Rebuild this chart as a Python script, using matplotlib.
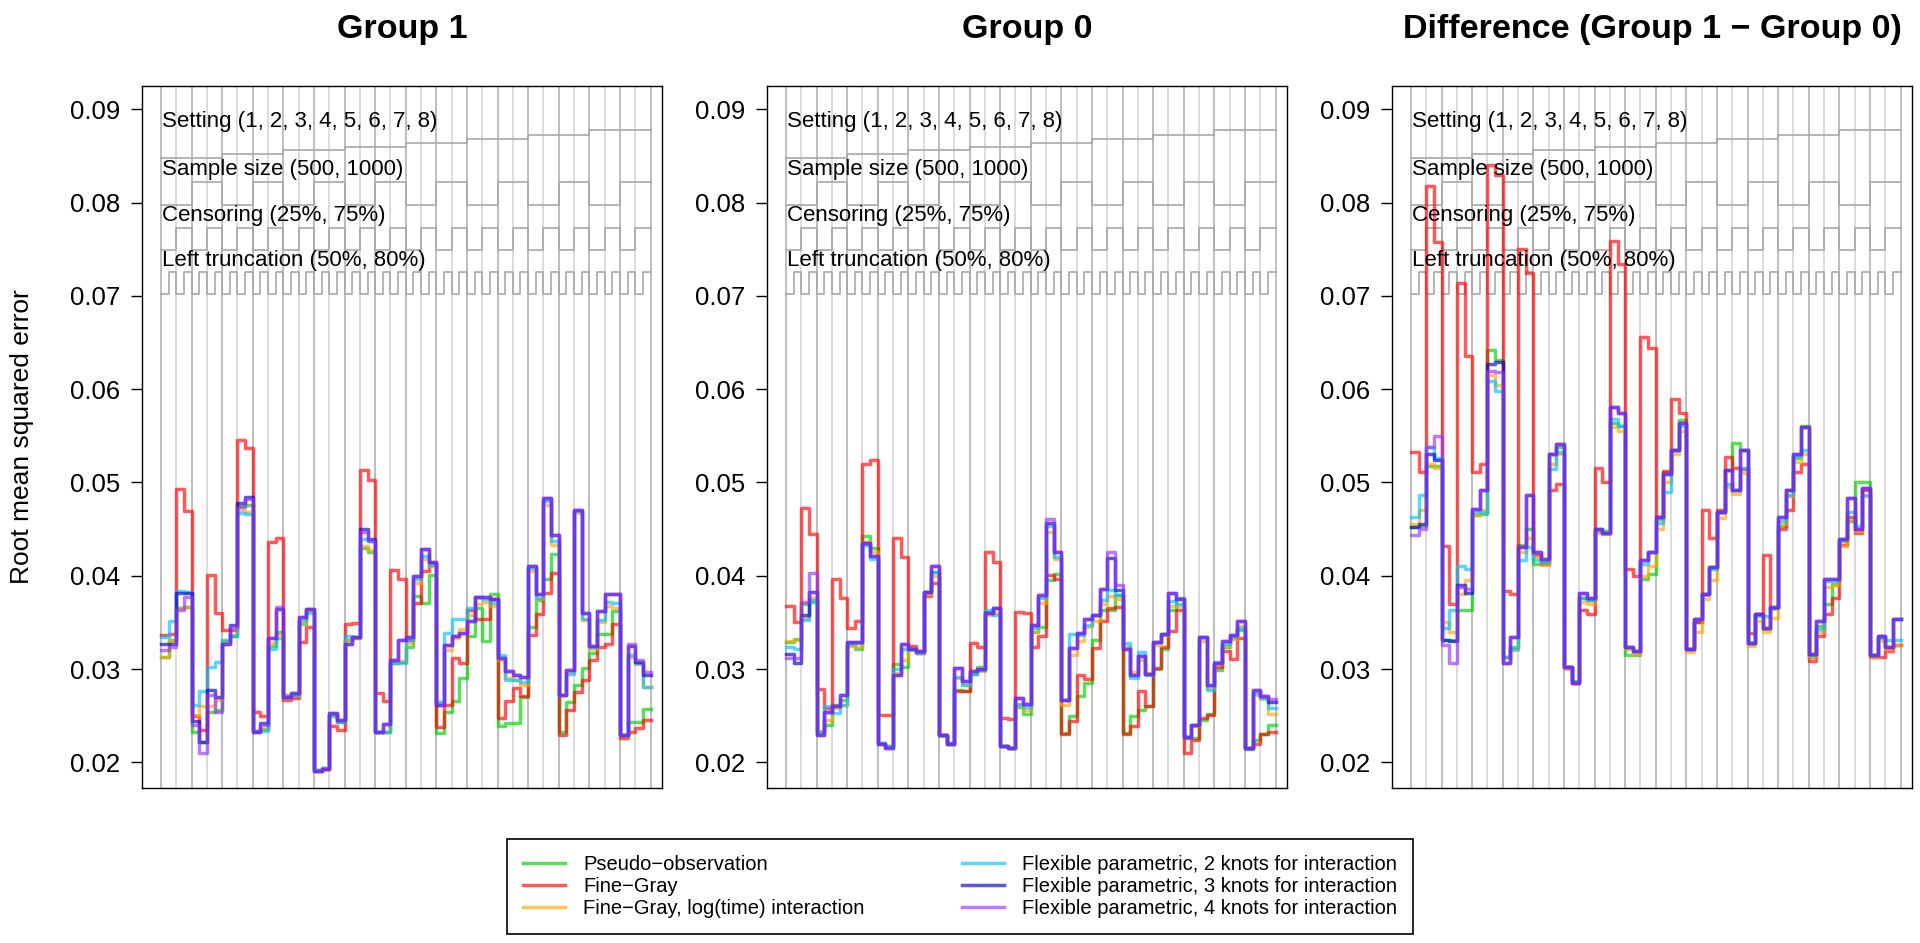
import numpy as np
import matplotlib
matplotlib.use("Agg")
import matplotlib.pyplot as plt
from matplotlib.lines import Line2D

plt.rcParams['font.family'] = ['Liberation Sans', 'DejaVu Sans']

# methods shown in the legend, in legend order
methods = ["Pseudo\u2212observation", "Fine\u2212Gray", "Fine\u2212Gray, log(time) interaction",
           "Flexible parametric, 2 knots for interaction",
           "Flexible parametric, 3 knots for interaction",
           "Flexible parametric, 4 knots for interaction"]
colors = ["#00CD00", "#FF0000", "#FFA500", "#00BFFF", "#0000CD", "#9B30FF"]

titles = ["Group 1", "Group 0", "Difference (Group 1 \u2212 Group 0)"]

# RMSE per scenario (64 scenarios), group 1
g1_pseudo = [0.0313, 0.0331, 0.0365, 0.0366, 0.0232, 0.0222, 0.0254, 0.0256, 0.0330, 0.0335,
             0.0475, 0.0476, 0.0234, 0.0236, 0.0325, 0.0340, 0.0272, 0.0272, 0.0348, 0.0364,
             0.0192, 0.0194, 0.0250, 0.0243, 0.0331, 0.0333, 0.0430, 0.0426, 0.0232, 0.0232,
             0.0306, 0.0308, 0.0324, 0.0378, 0.0371, 0.0401, 0.0231, 0.0254, 0.0266, 0.0290,
             0.0335, 0.0365, 0.0330, 0.0380, 0.0239, 0.0242, 0.0242, 0.0270, 0.0345, 0.0374,
             0.0396, 0.0423, 0.0232, 0.0265, 0.0283, 0.0301, 0.0317, 0.0338, 0.0338, 0.0362,
             0.0229, 0.0243, 0.0243, 0.0257]
g1_fg = [0.0336, 0.0338, 0.0493, 0.0469, 0.0250, 0.0235, 0.0401, 0.0360, 0.0342, 0.0342,
         0.0546, 0.0537, 0.0254, 0.0250, 0.0436, 0.0441, 0.0267, 0.0269, 0.0329, 0.0345,
         0.0191, 0.0193, 0.0239, 0.0235, 0.0348, 0.0349, 0.0513, 0.0503, 0.0274, 0.0266,
         0.0406, 0.0397, 0.0331, 0.0371, 0.0405, 0.0414, 0.0238, 0.0261, 0.0312, 0.0306,
         0.0363, 0.0354, 0.0354, 0.0375, 0.0247, 0.0266, 0.0280, 0.0271, 0.0337, 0.0359,
         0.0382, 0.0403, 0.0229, 0.0256, 0.0275, 0.0288, 0.0310, 0.0324, 0.0327, 0.0348,
         0.0226, 0.0233, 0.0237, 0.0245]
g1_fglog = [0.0313, 0.0330, 0.0365, 0.0367, 0.0251, 0.0260, 0.0260, 0.0267, 0.0330, 0.0336,
            0.0470, 0.0468, 0.0234, 0.0236, 0.0328, 0.0338, 0.0271, 0.0272, 0.0350, 0.0362,
            0.0192, 0.0194, 0.0252, 0.0244, 0.0331, 0.0333, 0.0432, 0.0428, 0.0232, 0.0233,
            0.0307, 0.0309, 0.0328, 0.0392, 0.0418, 0.0410, 0.0265, 0.0320, 0.0333, 0.0343,
            0.0358, 0.0370, 0.0372, 0.0368, 0.0310, 0.0290, 0.0288, 0.0283, 0.0405, 0.0375,
            0.0476, 0.0433, 0.0272, 0.0297, 0.0467, 0.0353, 0.0322, 0.0350, 0.0368, 0.0365,
            0.0229, 0.0313, 0.0305, 0.0281]
g1_fp2 = [0.0334, 0.0352, 0.0384, 0.0383, 0.0261, 0.0276, 0.0302, 0.0308, 0.0331, 0.0335,
          0.0467, 0.0466, 0.0234, 0.0234, 0.0322, 0.0333, 0.0270, 0.0272, 0.0353, 0.0360,
          0.0192, 0.0194, 0.0252, 0.0243, 0.0335, 0.0334, 0.0439, 0.0437, 0.0232, 0.0232,
          0.0306, 0.0307, 0.0331, 0.0396, 0.0421, 0.0412, 0.0265, 0.0339, 0.0354, 0.0354,
          0.0365, 0.0377, 0.0375, 0.0371, 0.0315, 0.0288, 0.0288, 0.0286, 0.0408, 0.0376,
          0.0480, 0.0437, 0.0272, 0.0295, 0.0469, 0.0354, 0.0324, 0.0353, 0.0372, 0.0371,
          0.0229, 0.0315, 0.0306, 0.0281]
g1_fp3 = [0.0327, 0.0327, 0.0381, 0.0381, 0.0244, 0.0222, 0.0278, 0.0270, 0.0327, 0.0347,
          0.0478, 0.0484, 0.0233, 0.0242, 0.0333, 0.0364, 0.0270, 0.0274, 0.0356, 0.0364,
          0.0191, 0.0193, 0.0253, 0.0245, 0.0327, 0.0334, 0.0450, 0.0439, 0.0233, 0.0241,
          0.0310, 0.0331, 0.0334, 0.0400, 0.0429, 0.0415, 0.0262, 0.0326, 0.0335, 0.0339,
          0.0352, 0.0377, 0.0377, 0.0375, 0.0312, 0.0298, 0.0294, 0.0291, 0.0410, 0.0380,
          0.0483, 0.0444, 0.0272, 0.0299, 0.0471, 0.0360, 0.0325, 0.0362, 0.0380, 0.0380,
          0.0229, 0.0325, 0.0308, 0.0294]
g1_fp4 = [0.0320, 0.0324, 0.0363, 0.0377, 0.0240, 0.0210, 0.0272, 0.0254, 0.0327, 0.0345,
          0.0474, 0.0482, 0.0233, 0.0240, 0.0333, 0.0366, 0.0270, 0.0274, 0.0356, 0.0364,
          0.0191, 0.0193, 0.0253, 0.0245, 0.0327, 0.0334, 0.0447, 0.0437, 0.0233, 0.0241,
          0.0310, 0.0331, 0.0334, 0.0400, 0.0429, 0.0415, 0.0262, 0.0326, 0.0335, 0.0339,
          0.0352, 0.0377, 0.0377, 0.0375, 0.0312, 0.0298, 0.0294, 0.0291, 0.0410, 0.0380,
          0.0483, 0.0444, 0.0272, 0.0299, 0.0471, 0.0360, 0.0325, 0.0362, 0.0380, 0.0380,
          0.0229, 0.0327, 0.0310, 0.0297]

# group 0
g0_pseudo = [0.0329, 0.0332, 0.0370, 0.0372, 0.0233, 0.0240, 0.0261, 0.0267, 0.0326, 0.0322,
             0.0443, 0.0430, 0.0221, 0.0217, 0.0305, 0.0302, 0.0322, 0.0318, 0.0383, 0.0404,
             0.0229, 0.0221, 0.0278, 0.0277, 0.0295, 0.0302, 0.0361, 0.0365, 0.0218, 0.0215,
             0.0259, 0.0252, 0.0340, 0.0345, 0.0395, 0.0402, 0.0231, 0.0250, 0.0271, 0.0285,
             0.0331, 0.0363, 0.0363, 0.0379, 0.0231, 0.0250, 0.0256, 0.0260, 0.0300, 0.0322,
             0.0363, 0.0376, 0.0226, 0.0226, 0.0245, 0.0252, 0.0299, 0.0324, 0.0333, 0.0342,
             0.0214, 0.0224, 0.0230, 0.0240]
g0_fg = [0.0368, 0.0350, 0.0473, 0.0445, 0.0279, 0.0258, 0.0397, 0.0376, 0.0344, 0.0351,
         0.0520, 0.0524, 0.0251, 0.0251, 0.0441, 0.0420, 0.0325, 0.0317, 0.0378, 0.0392,
         0.0229, 0.0220, 0.0276, 0.0276, 0.0328, 0.0324, 0.0425, 0.0415, 0.0247, 0.0246,
         0.0361, 0.0360, 0.0324, 0.0335, 0.0401, 0.0396, 0.0230, 0.0244, 0.0294, 0.0289,
         0.0323, 0.0351, 0.0365, 0.0366, 0.0230, 0.0239, 0.0276, 0.0260, 0.0301, 0.0324,
         0.0341, 0.0363, 0.0210, 0.0224, 0.0247, 0.0251, 0.0302, 0.0319, 0.0311, 0.0333,
         0.0215, 0.0220, 0.0230, 0.0233]
g0_fglog = [0.0330, 0.0331, 0.0355, 0.0376, 0.0234, 0.0245, 0.0258, 0.0262, 0.0325, 0.0324,
            0.0436, 0.0425, 0.0221, 0.0217, 0.0296, 0.0310, 0.0322, 0.0318, 0.0380, 0.0400,
            0.0229, 0.0221, 0.0290, 0.0283, 0.0297, 0.0298, 0.0358, 0.0360, 0.0218, 0.0215,
            0.0262, 0.0256, 0.0340, 0.0371, 0.0447, 0.0418, 0.0262, 0.0315, 0.0330, 0.0345,
            0.0352, 0.0370, 0.0378, 0.0375, 0.0325, 0.0297, 0.0310, 0.0296, 0.0326, 0.0336,
            0.0368, 0.0368, 0.0227, 0.0239, 0.0330, 0.0280, 0.0305, 0.0325, 0.0332, 0.0346,
            0.0215, 0.0272, 0.0268, 0.0252]
g0_fp2 = [0.0324, 0.0322, 0.0353, 0.0374, 0.0233, 0.0260, 0.0253, 0.0261, 0.0328, 0.0328,
          0.0433, 0.0418, 0.0221, 0.0217, 0.0300, 0.0322, 0.0322, 0.0317, 0.0383, 0.0404,
          0.0229, 0.0221, 0.0292, 0.0283, 0.0295, 0.0299, 0.0363, 0.0358, 0.0218, 0.0215,
          0.0263, 0.0259, 0.0344, 0.0376, 0.0453, 0.0420, 0.0267, 0.0338, 0.0336, 0.0347,
          0.0358, 0.0374, 0.0385, 0.0379, 0.0328, 0.0290, 0.0318, 0.0294, 0.0329, 0.0338,
          0.0373, 0.0370, 0.0227, 0.0240, 0.0334, 0.0278, 0.0308, 0.0327, 0.0335, 0.0344,
          0.0215, 0.0274, 0.0269, 0.0258]
g0_fp3 = [0.0316, 0.0307, 0.0358, 0.0383, 0.0229, 0.0254, 0.0260, 0.0272, 0.0329, 0.0329,
          0.0435, 0.0421, 0.0220, 0.0215, 0.0294, 0.0327, 0.0322, 0.0319, 0.0383, 0.0410,
          0.0229, 0.0220, 0.0301, 0.0287, 0.0298, 0.0300, 0.0360, 0.0365, 0.0217, 0.0215,
          0.0269, 0.0263, 0.0347, 0.0379, 0.0457, 0.0425, 0.0267, 0.0323, 0.0339, 0.0354,
          0.0358, 0.0386, 0.0419, 0.0385, 0.0322, 0.0294, 0.0314, 0.0295, 0.0329, 0.0338,
          0.0382, 0.0375, 0.0227, 0.0240, 0.0334, 0.0283, 0.0307, 0.0330, 0.0336, 0.0351,
          0.0215, 0.0278, 0.0271, 0.0265]
g0_fp4 = [0.0312, 0.0312, 0.0372, 0.0403, 0.0229, 0.0254, 0.0260, 0.0272, 0.0329, 0.0329,
          0.0435, 0.0421, 0.0220, 0.0215, 0.0294, 0.0327, 0.0322, 0.0319, 0.0383, 0.0410,
          0.0229, 0.0220, 0.0301, 0.0287, 0.0298, 0.0300, 0.0360, 0.0365, 0.0217, 0.0215,
          0.0269, 0.0263, 0.0347, 0.0379, 0.0461, 0.0425, 0.0267, 0.0323, 0.0339, 0.0354,
          0.0358, 0.0386, 0.0425, 0.0390, 0.0322, 0.0294, 0.0314, 0.0295, 0.0329, 0.0338,
          0.0382, 0.0375, 0.0227, 0.0240, 0.0334, 0.0283, 0.0307, 0.0330, 0.0336, 0.0351,
          0.0215, 0.0278, 0.0271, 0.0268]

# difference (group 1 - group 0)
diff_pseudo = [0.0452, 0.0453, 0.0518, 0.0518, 0.0331, 0.0331, 0.0363, 0.0363, 0.0465, 0.0466,
               0.0642, 0.0631, 0.0313, 0.0324, 0.0433, 0.0450, 0.0413, 0.0415, 0.0531, 0.0538,
               0.0302, 0.0287, 0.0376, 0.0374, 0.0450, 0.0448, 0.0564, 0.0561, 0.0315, 0.0315,
               0.0396, 0.0402, 0.0461, 0.0511, 0.0535, 0.0567, 0.0322, 0.0350, 0.0380, 0.0409,
               0.0468, 0.0513, 0.0542, 0.0535, 0.0328, 0.0359, 0.0343, 0.0365, 0.0453, 0.0492,
               0.0526, 0.0561, 0.0313, 0.0346, 0.0370, 0.0391, 0.0437, 0.0459, 0.0500, 0.0500,
               0.0315, 0.0333, 0.0324, 0.0354]
diff_fg = [0.0533, 0.0511, 0.0818, 0.0758, 0.0432, 0.0370, 0.0714, 0.0636, 0.0511, 0.0520,
           0.0840, 0.0830, 0.0384, 0.0380, 0.0750, 0.0725, 0.0422, 0.0413, 0.0492, 0.0498,
           0.0302, 0.0285, 0.0363, 0.0359, 0.0516, 0.0501, 0.0759, 0.0734, 0.0407, 0.0400,
           0.0656, 0.0644, 0.0463, 0.0512, 0.0590, 0.0574, 0.0322, 0.0350, 0.0470, 0.0441,
           0.0470, 0.0527, 0.0516, 0.0514, 0.0339, 0.0359, 0.0422, 0.0365, 0.0450, 0.0470,
           0.0511, 0.0520, 0.0309, 0.0335, 0.0359, 0.0376, 0.0433, 0.0463, 0.0446, 0.0492,
           0.0313, 0.0313, 0.0319, 0.0326]
diff_fglog = [0.0455, 0.0470, 0.0520, 0.0515, 0.0350, 0.0340, 0.0380, 0.0395, 0.0465, 0.0470,
              0.0615, 0.0605, 0.0313, 0.0320, 0.0425, 0.0440, 0.0420, 0.0412, 0.0520, 0.0530,
              0.0300, 0.0286, 0.0372, 0.0370, 0.0446, 0.0445, 0.0560, 0.0555, 0.0322, 0.0316,
              0.0400, 0.0410, 0.0450, 0.0500, 0.0530, 0.0555, 0.0318, 0.0340, 0.0375, 0.0395,
              0.0462, 0.0495, 0.0488, 0.0510, 0.0325, 0.0352, 0.0340, 0.0355, 0.0455, 0.0485,
              0.0522, 0.0530, 0.0313, 0.0340, 0.0388, 0.0390, 0.0432, 0.0460, 0.0448, 0.0485,
              0.0313, 0.0330, 0.0322, 0.0326]
diff_fp2 = [0.0463, 0.0487, 0.0538, 0.0526, 0.0344, 0.0363, 0.0411, 0.0407, 0.0468, 0.0468,
            0.0609, 0.0598, 0.0313, 0.0322, 0.0417, 0.0431, 0.0417, 0.0415, 0.0514, 0.0533,
            0.0302, 0.0287, 0.0376, 0.0374, 0.0448, 0.0446, 0.0568, 0.0561, 0.0324, 0.0319,
            0.0413, 0.0426, 0.0457, 0.0490, 0.0535, 0.0561, 0.0322, 0.0354, 0.0380, 0.0407,
            0.0468, 0.0498, 0.0492, 0.0516, 0.0328, 0.0357, 0.0357, 0.0365, 0.0459, 0.0487,
            0.0528, 0.0535, 0.0315, 0.0343, 0.0394, 0.0394, 0.0439, 0.0468, 0.0453, 0.0487,
            0.0315, 0.0335, 0.0331, 0.0331]
diff_fp3 = [0.0452, 0.0455, 0.0531, 0.0524, 0.0331, 0.0330, 0.0390, 0.0381, 0.0472, 0.0492,
            0.0627, 0.0629, 0.0307, 0.0334, 0.0431, 0.0487, 0.0426, 0.0418, 0.0531, 0.0541,
            0.0302, 0.0285, 0.0381, 0.0376, 0.0450, 0.0446, 0.0581, 0.0575, 0.0324, 0.0319,
            0.0417, 0.0426, 0.0463, 0.0509, 0.0535, 0.0564, 0.0322, 0.0354, 0.0380, 0.0409,
            0.0468, 0.0513, 0.0492, 0.0535, 0.0328, 0.0359, 0.0344, 0.0367, 0.0463, 0.0492,
            0.0531, 0.0559, 0.0316, 0.0352, 0.0396, 0.0396, 0.0439, 0.0483, 0.0450, 0.0494,
            0.0315, 0.0335, 0.0324, 0.0354]
diff_fp4 = [0.0444, 0.0450, 0.0538, 0.0550, 0.0326, 0.0306, 0.0388, 0.0386, 0.0472, 0.0492,
            0.0620, 0.0618, 0.0307, 0.0334, 0.0431, 0.0487, 0.0426, 0.0418, 0.0531, 0.0541,
            0.0302, 0.0285, 0.0381, 0.0376, 0.0450, 0.0446, 0.0581, 0.0575, 0.0324, 0.0319,
            0.0417, 0.0426, 0.0463, 0.0509, 0.0535, 0.0564, 0.0322, 0.0354, 0.0380, 0.0409,
            0.0468, 0.0513, 0.0492, 0.0535, 0.0328, 0.0359, 0.0344, 0.0367, 0.0463, 0.0492,
            0.0531, 0.0559, 0.0316, 0.0352, 0.0396, 0.0396, 0.0439, 0.0483, 0.0450, 0.0494,
            0.0315, 0.0335, 0.0324, 0.0354]

panels = [
    [g1_pseudo, g1_fg, g1_fglog, g1_fp2, g1_fp3, g1_fp4],
    [g0_pseudo, g0_fg, g0_fglog, g0_fp2, g0_fp3, g0_fp4],
    [diff_pseudo, diff_fg, diff_fglog, diff_fp2, diff_fp3, diff_fp4],
]

# nested-loop reference lines (y level of each factor level)
setting_levels = [0.0848, 0.0852, 0.0856, 0.0860, 0.0864, 0.0868, 0.0873, 0.0878]
size_levels = [0.0797, 0.0822]
cens_levels = [0.0749, 0.0773]
trunc_levels = [0.0702, 0.0726]
ref_labels = ["Setting (1, 2, 3, 4, 5, 6, 7, 8)", "Sample size (500, 1000)",
              "Censoring (25%, 75%)", "Left truncation (50%, 80%)"]
ref_label_y = [0.0887, 0.0835, 0.0786, 0.0738]
yticks = [0.02, 0.03, 0.04, 0.05, 0.06, 0.07, 0.08, 0.09]

n_scen = 64
setting_y = np.repeat(setting_levels, 8)
size_y = np.tile(np.repeat(size_levels, 4), 8)
cens_y = np.tile(np.repeat(cens_levels, 2), 16)
trunc_y = np.tile(trunc_levels, 32)
ref_series = [setting_y, size_y, cens_y, trunc_y]

W, H = 1920, 943
fig = plt.figure(figsize=(W / 100, H / 100), dpi=100)

panel_left = [142, 767, 1392]
panel_w = 520
top, bottom = 86, 788
x_edges = np.arange(n_scen + 1)
alpha = 0.65

for p in range(3):
    ax = fig.add_axes([panel_left[p] / W, 1 - bottom / H, panel_w / W, (bottom - top) / H])

    # vertical separators, alternating shade
    for k in range(0, n_scen + 1, 2):
        shade = "#BDBDBD" if (k // 2) % 2 == 0 else "#DCDCDC"
        ax.axvline(k, color=shade, lw=1.4, zorder=1)

    for ys, lab, ly in zip(ref_series, ref_labels, ref_label_y):
        ax.step(x_edges, np.append(ys, ys[-1]), where="post", color="#A8A8A8", lw=1.2, zorder=2)
        ax.text(0.15, ly, lab, ha="left", va="center", fontsize=16, zorder=4)

    # drawn in legend order, so the 4-knot line sits on top
    for m in range(len(methods)):
        vals = np.array(panels[p][m])
        ax.step(x_edges, np.append(vals, vals[-1]), where="post",
                color=colors[m], alpha=alpha, lw=2.5, zorder=3)

    ax.set_xlim(-2.48, 65.5)
    ax.set_ylim(0.01725, 0.0925)
    ax.set_xticks([])
    ax.set_yticks(yticks)
    ax.set_yticklabels(["%.2f" % t for t in yticks])
    ax.tick_params(axis="y", labelsize=18.5, length=7.7, width=1.0, pad=8)
    for sp in ax.spines.values():
        sp.set_linewidth(1.0)

    cx = (panel_left[p] + panel_w / 2) / W
    fig.text(cx, 1 - 37.7 / H, titles[p], ha="center", va="baseline",
             fontsize=24.5, fontweight="bold")

fig.text(22 / W, 1 - 437 / H, "Root mean squared error", rotation=90,
         ha="center", va="center", fontsize=19)

handles = [Line2D([0], [0], color=c, alpha=alpha, lw=2.5) for c in colors]
leg = fig.legend(handles, methods, loc="upper center", bbox_to_anchor=(0.5, 1 - 829 / H),
                 ncol=2, fontsize=14.5, frameon=True, fancybox=False, edgecolor="black",
                 framealpha=1, handlelength=2.1, handletextpad=0.9, columnspacing=4.8,
                 borderpad=0.8, labelspacing=0.15)
leg.get_frame().set_linewidth(1.2)

fig.savefig("out.png", dpi=100)
